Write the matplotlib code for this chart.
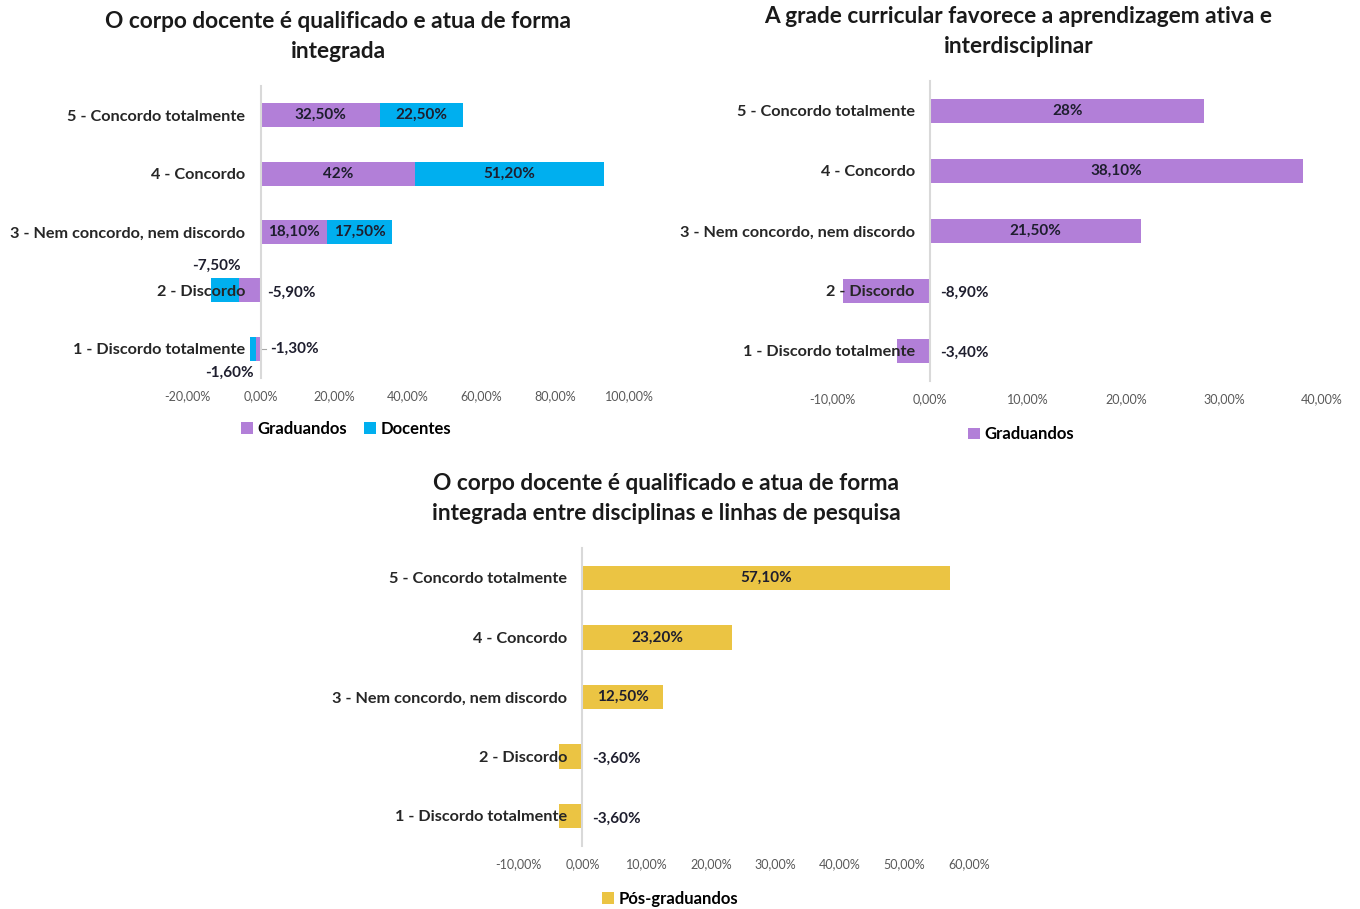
import matplotlib.pyplot as plt
from matplotlib.ticker import FuncFormatter

plt.rcParams['font.family'] = ['Lato', 'DejaVu Sans']

categorias = ["1 - Discordo totalmente", "2 - Discordo", "3 - Nem concordo, nem discordo",
              "4 - Concordo", "5 - Concordo totalmente"]

# gráfico 1: corpo docente (graduandos x docentes)
grad_1 = [-1.3, -5.9, 18.1, 42.0, 32.5]
doc_1 = [-1.6, -7.5, 17.5, 51.2, 22.5]
rot_grad_1 = ["-1,30%", "-5,90%", "18,10%", "42%", "32,50%"]
rot_doc_1 = ["-1,60%", "-7,50%", "17,50%", "51,20%", "22,50%"]

# gráfico 2: grade curricular (graduandos)
grad_2 = [-3.4, -8.9, 21.5, 38.1, 28.0]
rot_grad_2 = ["-3,40%", "-8,90%", "21,50%", "38,10%", "28%"]

# gráfico 3: corpo docente (pós-graduandos)
pos_3 = [-3.6, -3.6, 12.5, 23.2, 57.1]
rot_pos_3 = ["-3,60%", "-3,60%", "12,50%", "23,20%", "57,10%"]

roxo = "#B27FD8"
azul = "#00AFEF"
amarelo = "#EBC443"
cor_rotulo = "#1E1E2E"
cor_eixo = "#D9D9D9"

fig = plt.figure(figsize=(13.6, 9.09), dpi=100)
fmt = FuncFormatter(lambda v, p: f"{v:.2f}%".replace(".", ","))


def prepara_eixo(ax, xmin, xmax, passo):
    ax.set_xlim(xmin, xmax)
    ax.set_ylim(-0.5, 4.5)
    ax.set_xticks([xmin + i * passo for i in range(int(round((xmax - xmin) / passo)) + 1)])
    ax.xaxis.set_major_formatter(fmt)
    ax.set_yticks(range(len(categorias)))
    ax.set_yticklabels(categorias)
    for s in ['top', 'right', 'bottom']:
        ax.spines[s].set_visible(False)
    ax.spines['left'].set_position(('data', 0))
    ax.spines['left'].set_color(cor_eixo)
    ax.spines['left'].set_linewidth(1.5)
    ax.tick_params(axis='x', length=0, pad=9, labelsize=9, labelcolor="#595959")
    ax.tick_params(axis='y', length=0, pad=11, labelsize=11.7, labelcolor="#262626")
    for lbl in ax.get_yticklabels():
        lbl.set_fontweight('bold')


def rotulo(ax, x, y, txt, dx=0, dy=0, ha='center'):
    ax.annotate(txt, (x, y), xytext=(dx, dy), textcoords='offset points',
                ha=ha, va='center', fontsize=11, fontweight='bold', color=cor_rotulo)


def titulo(ax, txt, x, y):
    ax.set_title(txt, fontsize=16.3, fontweight='bold', color="#1A1A1A",
                 x=x, y=y, pad=0, linespacing=1.55)


def legenda(ax, x, y, ncol=1):
    ax.legend(loc='center', bbox_to_anchor=(x, y), ncol=ncol, frameon=False,
              handlelength=0.7, handleheight=0.7, handletextpad=0.3, columnspacing=1.0,
              prop={'size': 12, 'weight': 'bold'})


y = list(range(len(categorias)))
alt = 0.41

# --- gráfico 1 ---
ax1 = fig.add_axes([0.1375, 0.5842, 0.325, 0.3212])
prepara_eixo(ax1, -20, 100, 20)
ax1.barh(y, grad_1, height=alt, color=roxo, label="Graduandos")
ax1.barh(y, doc_1, height=alt, left=grad_1, color=azul, label="Docentes")
for i in range(2, 5):
    rotulo(ax1, grad_1[i] / 2, i, rot_grad_1[i])
    rotulo(ax1, grad_1[i] + doc_1[i] / 2, i, rot_doc_1[i])
rotulo(ax1, 0, 1, rot_grad_1[1], dx=5, dy=-2, ha='left')
rotulo(ax1, grad_1[1] + doc_1[1] / 2, 1, rot_doc_1[1], dx=-6, dy=18)
rotulo(ax1, 0, 0, rot_grad_1[0], dx=7, dy=0, ha='left')
ax1.plot([0.2, 1.5], [0, 0], color="#A6A6A6", lw=0.8)
rotulo(ax1, grad_1[0] + doc_1[0] / 2, 0, rot_doc_1[0], dx=-17, dy=-17)
titulo(ax1, "O corpo docente é qualificado e atua de forma\nintegrada", 0.342, 1.095)
legenda(ax1, 0.36, -0.175, ncol=2)

# --- gráfico 2 ---
ax2 = fig.add_axes([0.6118, 0.5809, 0.3603, 0.330])
prepara_eixo(ax2, -10, 40, 10)
ax2.barh(y, grad_2, height=alt, color=roxo, label="Graduandos")
for i in range(2, 5):
    rotulo(ax2, grad_2[i] / 2, i, rot_grad_2[i])
for i in range(0, 2):
    rotulo(ax2, 0, i, rot_grad_2[i], dx=7, dy=-1, ha='left')
titulo(ax2, "A grade curricular favorece a aprendizagem ativa e\ninterdisciplinar", 0.38, 1.092)
legenda(ax2, 0.386, -0.178)

# --- gráfico 3 ---
ax3 = fig.add_axes([0.3809, 0.0696, 0.3316, 0.3273])
prepara_eixo(ax3, -10, 60, 10)
ax3.barh(y, pos_3, height=alt, color=amarelo, label="Pós-graduandos")
for i in range(2, 5):
    rotulo(ax3, pos_3[i] / 2, i, rot_pos_3[i])
for i in range(0, 2):
    rotulo(ax3, 0, i, rot_pos_3[i], dx=7, dy=-2, ha='left')
titulo(ax3, "O corpo docente é qualificado e atua de forma\nintegrada entre disciplinas e linhas de pesquisa", 0.328, 1.095)
legenda(ax3, 0.337, -0.178)

fig.savefig("out.png", dpi=100, facecolor="white")
